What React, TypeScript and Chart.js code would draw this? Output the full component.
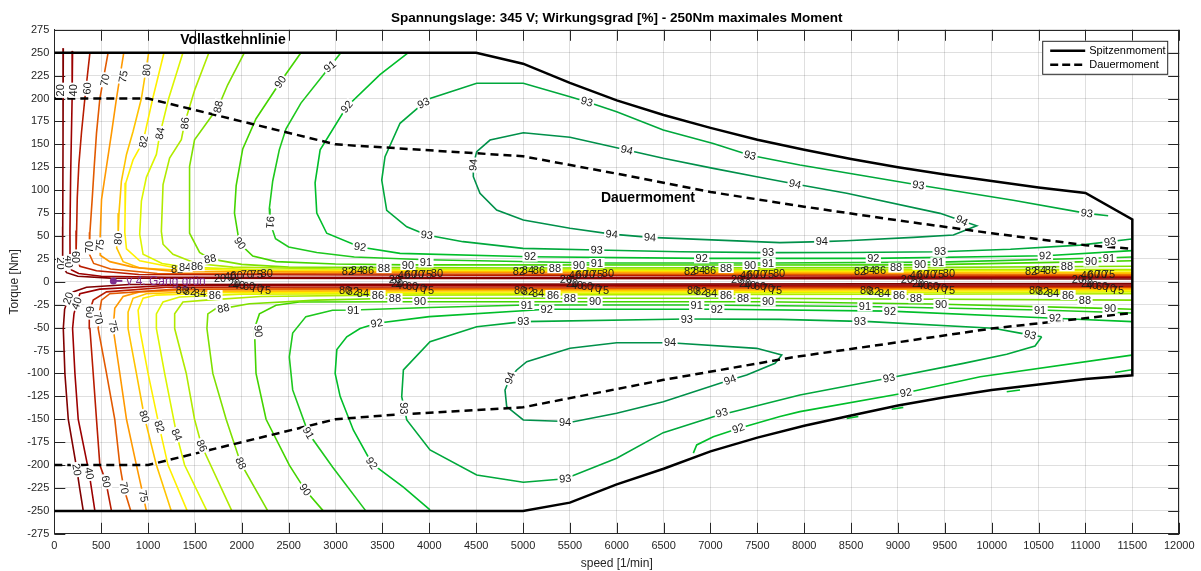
import React, { useEffect, useRef } from 'react';
import { Chart, registerables } from 'chart.js';
Chart.register(...registerables);

// ---------- axes ----------
const xTicks = [0, 500, 1000, 1500, 2000, 2500, 3000, 3500, 4000, 4500, 5000, 5500, 6000, 6500, 7000, 7500, 8000, 8500, 9000, 9500, 10000, 10500, 11000, 11500, 12000];
const yMin = -275;
const yMax = 275;

// ---------- envelope lines ----------
const spitzenmoment = [[0, 250], [4500, 250], [5000, 238], [5500, 217], [6000, 198], [6500, 182], [7000, 168], [7500, 155], [8000, 144], [8500, 134], [9000, 125], [9500, 117], [10000, 110], [10500, 103], [11000, 97], [11500, 68], [11500, -102], [11000, -106], [10500, -112], [10000, -118], [9500, -126], [9000, -135], [8500, -146], [8000, -157], [7500, -170], [7000, -185], [6500, -204], [6000, -221], [5500, -241], [5000, -250], [0, -250]];
const dauerOben = [[0, 200], [1000, 200], [2000, 175], [3000, 150], [5000, 137], [6000, 118], [7000, 98], [8000, 82], [9000, 67], [10000, 53], [11000, 40], [11500, 36]];
const dauerUnten = [[0, -200], [1000, -200], [2000, -175], [3000, -150], [3500, -146], [5000, -137], [6500, -107], [7900, -82], [9000, -66], [10000, -51], [11500, -34]];

// ---------- contour levels ----------
const levels = [20, 40, 60, 70, 75, 80, 82, 84, 86, 88, 90, 91, 92, 93, 94];
const levelColors = ['#800000', '#9c0000', '#b81c00', '#e25a00', '#ff9900', '#ffc400', '#fff000', '#dcf500', '#b0ea00', '#7ee000', '#44d400', '#1ec81e', '#00be2a', '#00a83c', '#00904a'];

// upper half (positive torque)
const c20o = [[96, 255], [93, 150], [90, 60], [89, 25], [100, 15], [131, 10], [250, 6], [600, 4], [11500, 3]];
const c40o = [[195, 252], [190, 200], [175, 120], [167, 56], [168, 25], [184, 13], [260, 9], [500, 6], [1200, 5], [11500, 4.5]];
const c60o = [[380, 250], [326, 200], [291, 164], [262, 128], [245, 92], [238, 56], [232, 30], [273, 17], [450, 12], [900, 8], [11500, 5.5]];
const c70o = [[574, 250], [486, 200], [450, 162], [426, 126], [404, 90], [380, 54], [375, 30], [420, 20], [600, 14], [1100, 9], [11500, 7]];
const c75o = [[741, 250], [663, 200], [610, 162], [557, 126], [504, 90], [486, 41], [490, 29], [592, 22], [840, 16], [1300, 11], [11500, 8]];
const c80o = [[1007, 250], [929, 200], [840, 164], [770, 139], [716, 110], [690, 75], [681, 50], [665, 37], [734, 22], [911, 15], [1550, 11.5], [11500, 9.5]];
const c82o = [[1170, 250], [1050, 200], [947, 153], [840, 133], [763, 108], [755, 75], [752, 54], [770, 36], [911, 23], [1301, 15], [2000, 12], [11500, 10.5]];
const c84o = [[1372, 250], [1220, 200], [1124, 160], [1089, 139], [982, 114], [929, 88], [911, 52], [947, 30], [1150, 20], [1395, 16], [2200, 13], [11500, 12]];
const c86o = [[1649, 250], [1500, 210], [1390, 173], [1355, 155], [1230, 135], [1160, 106], [1142, 55], [1160, 41], [1266, 30], [1514, 20], [1904, 16], [3000, 14], [11500, 13.5]];
const c88o = [[2028, 250], [1850, 215], [1750, 191], [1496, 155], [1443, 126], [1443, 75], [1443, 53], [1550, 32], [1663, 25], [2000, 19], [2500, 16], [5000, 15], [9000, 15.5], [11500, 17]];
const c90o = [[2631, 250], [2411, 218], [2152, 178], [2010, 145], [1940, 105], [1922, 75], [1975, 42], [2117, 28], [2365, 22], [3000, 19.5], [3777, 18.5], [7421, 18.3], [9253, 18.5], [11082, 22], [11500, 23]];
const c91o = [[3057, 250], [2941, 235], [2631, 195], [2472, 167], [2400, 144], [2330, 110], [2294, 80], [2301, 65], [2360, 47], [2500, 38], [2800, 32], [3200, 27], [3973, 24], [5786, 20.5], [7617, 20.5], [9449, 21.5], [11262, 26.3], [11500, 27]];
const c92o = [[3777, 250], [3474, 226], [3119, 191], [2836, 144], [2782, 108], [2800, 75], [2906, 53], [3261, 38], [3688, 31], [5075, 27.4], [6906, 25.6], [8737, 25.6], [10571, 28.5], [11500, 34]];
const c93o = [[11242, 72], [11013, 74.7], [10229, 89], [9218, 105.6], [7954, 127.5], [7421, 138], [7029, 151], [6496, 165.6], [5999, 185.6], [5680, 196.5], [5501, 202], [5003, 216.6], [4506, 216.6], [4008, 200], [3938, 195], [3688, 173], [3528, 136.5], [3493, 111], [3546, 78], [3760, 60], [3973, 51], [4360, 43.8], [5000, 36.5], [5786, 34.7], [6675, 32.8], [7617, 31.8], [8500, 32], [9449, 32.8], [10200, 35.5], [10942, 40], [11494, 46.7]];
const c94o = [[4470, 127.5], [4506, 142], [4648, 154.7], [5003, 162.7], [5501, 157.7], [6106, 143.8], [6496, 134.8], [7030, 123.8], [7493, 114.7], [7902, 106.7], [8453, 96.6], [9449, 74.7], [9680, 66.7], [9840, 61.2], [9591, 51], [9164, 48.5], [8453, 44.8], [8187, 43.8], [7741, 42.7], [6355, 48.5], [5946, 52], [5501, 58.4], [5003, 67.4], [4719, 78.3], [4541, 96.6], [4470, 114.7], [4470, 127.5]];

// lower half (negative torque)
const c20u = [[309, -250], [270, -225], [238, -203], [149, -150], [113, -100], [96, -51], [110, -30], [149, -18], [200, -11], [344, -6], [800, -3], [11500, -2]];
const c40u = [[433, -250], [372, -209], [255, -150], [220, -100], [195, -51], [210, -35], [239, -23.5], [273, -13], [486, -8], [1200, -4], [11500, -3.5]];
const c60u = [[610, -250], [550, -218], [486, -200], [450, -150], [415, -100], [380, -51], [373, -33], [415, -20], [557, -11], [1200, -6], [11500, -5]];
const c70u = [[816, -250], [741, -225], [699, -200], [645, -150], [557, -100], [468, -51], [469, -40], [504, -20], [592, -13], [1300, -8], [11500, -6]];
const c75u = [[982, -250], [950, -234], [876, -200], [770, -150], [699, -100], [628, -51], [645, -29], [734, -16], [911, -11], [1500, -9], [11500, -7]];
const c80u = [[1248, -250], [1089, -200], [960, -147], [876, -100], [787, -51], [787, -33], [840, -18], [982, -13], [1600, -10.5], [11500, -8]];
const c82u = [[1418, -250], [1213, -200], [1120, -158], [1000, -100], [911, -51], [894, -31], [947, -18], [1089, -14.5], [1800, -12], [11500, -9.5]];
const c84u = [[1628, -250], [1390, -200], [1306, -167], [1177, -100], [1089, -51], [1089, -35], [1160, -22], [1337, -16.5], [2000, -13.5], [11500, -11]];
const c86u = [[1894, -250], [1572, -179], [1496, -150], [1408, -100], [1284, -51], [1284, -35], [1372, -22], [1620, -20], [2200, -16], [3440, -14.5], [11500, -13]];
const c88u = [[2277, -250], [1989, -198], [1833, -150], [1691, -100], [1628, -51], [1638, -35], [1727, -29], [1805, -29], [2081, -24], [2800, -20], [3635, -18], [7280, -18], [11500, -20]];
const c90u = [[2869, -250], [2675, -227], [2507, -200], [2259, -150], [2152, -100], [2135, -51], [2188, -35], [2365, -25.5], [2613, -22], [3902, -21.7], [7564, -21.7], [9377, -24.2], [11209, -29], [11500, -30]];
const c91u = [[3323, -250], [2968, -202], [2710, -165], [2543, -118], [2507, -82], [2543, -56], [2684, -38], [2968, -31], [3190, -30.8], [4000, -28], [5040, -25.3], [6853, -25.3], [8648, -27], [10516, -30.8], [11500, -34]];
const c92u = [[4008, -249], [3724, -224], [3474, -205], [3386, -198], [3191, -162], [3049, -125], [2996, -100], [3014, -74], [3120, -60], [3261, -51], [3440, -45.3], [4000, -38], [5253, -30], [7067, -30], [8914, -32], [10729, -40], [11500, -43.5]];
const c92r = [[6817, -187], [6853, -178], [7030, -169], [7297, -160], [7741, -147], [7954, -141.7], [9085, -121], [9878, -103.6], [11494, -80]];
const c92f1 = [[8453, -149], [8577, -147]];
const c92f2 = [[8933, -139], [9057, -137]];
const c92f3 = [[10160, -120], [10302, -118]];
const c92f4 = [[11316, -99], [11494, -96]];
const c93u = [[10533, -60], [10302, -56], [10017, -50.7], [8700, -43.5], [7741, -41], [6747, -40.6], [5003, -43.5], [4506, -49], [4008, -65.4], [3724, -96.2], [3706, -125.4], [3760, -150.8], [4008, -183.5], [4506, -210.8], [5003, -218.8], [5450, -215], [5999, -192.6], [6496, -164.6], [7030, -147.2], [7954, -123.5], [8904, -105], [9697, -89], [10160, -79], [10462, -70], [10533, -60]];
const c94u = [[4861, -105], [4933, -96.2], [5040, -87.2], [5501, -72.6], [5999, -66.5], [6568, -66.5], [7493, -72.6], [7760, -79.9], [7689, -89], [7386, -101.7], [7208, -107.2], [6497, -130.8], [5999, -143.5], [5537, -152.7], [5003, -150.8], [4826, -136.3], [4808, -118.1], [4861, -105]];

const contourLines = [
  [20, c20o], [20, c20u], [40, c40o], [40, c40u], [60, c60o], [60, c60u], [70, c70o], [70, c70u],
  [75, c75o], [75, c75u], [80, c80o], [80, c80u], [82, c82o], [82, c82u], [84, c84o], [84, c84u],
  [86, c86o], [86, c86u], [88, c88o], [88, c88u], [90, c90o], [90, c90u], [91, c91o], [91, c91u],
  [92, c92o], [92, c92u], [92, c92r], [92, c92f1], [92, c92f2], [92, c92f3], [92, c92f4],
  [93, c93o], [93, c93u], [94, c94o], [94, c94u],
];

// ---------- contour labels: [speed, torque, rotation deg] ----------
const lab20 = [[71, 209, -90], [71, 20, 90], [1768, 4, 0], [3634, 3, 0], [5458, 3, 0], [7283, 3, 0], [9096, 3, 0], [10920, 3, 0], [149, -18, -70], [239, -205, 80], [1917, -1.5, 0], [3656, -1.5, 0], [5523, -1.5, 0], [7369, -1.5, 0], [9214, -1.5, 0], [11017, -1.5, 0]];
const lab40 = [[203, 209, -90], [157, 22, 90], [1875, 6, 0], [3730, 6.5, 0], [5554, 6.5, 0], [7379, 6.5, 0], [9192, 6.5, 0], [11016, 6.5, 0], [239, -23.5, -70], [373, -209, 80], [1970, -4, 0], [3709, -4, 0], [5576, -4, 0], [7422, -4, 0], [9267, -4, 0], [11070, -4, 0]];
const lab60 = [[352, 211, -85], [231, 27, 90], [1946, 7.4, 0], [3805, 7.5, 0], [5629, 7.5, 0], [7454, 7.5, 0], [9267, 7.5, 0], [11091, 7.5, 0], [373, -33, 90], [552, -218, 80], [2077, -5, 0], [3816, -5, 0], [5683, -5, 0], [7529, -5, 0], [9374, -5, 0], [11177, -5, 0]];
const lab70 = [[541, 220, -80], [373, 38, -90], [2053, 8.5, 0], [3880, 8, 0], [5704, 8, 0], [7529, 8, 0], [9342, 8, 0], [11166, 8, 0], [469, -40, 75], [744, -225, 80], [2162, -7, 0], [3901, -7, 0], [5768, -7, 0], [7614, -7, 0], [9459, -7, 0], [11262, -7, 0]];
const lab75 = [[736, 224, -80], [488, 40, -85], [2159, 8.5, 0], [3965, 8.5, 0], [5789, 8.5, 0], [7614, 8.5, 0], [9427, 8.5, 0], [11251, 8.5, 0], [629, -49, 75], [950, -234, 80], [2247, -9, 0], [3986, -9, 0], [5853, -9, 0], [7699, -9, 0], [9544, -9, 0], [11347, -9, 0]];
const lab80 = [[986, 231, -85], [683, 47, -85], [2266, 9.6, 0], [4082, 9.5, 0], [5906, 9.5, 0], [7731, 9.5, 0], [9544, 9.5, 0], [960, -147, 72], [1362, -9.7, 0], [3101, -9.7, 0], [4968, -9.7, 0], [6814, -9.7, 0], [8659, -9.7, 0], [10462, -9.7, 0]];
const lab82 = [[953, 153, -80], [1309, 13, 0], [3133, 11, 0], [4957, 11, 0], [6782, 11, 0], [8595, 11, 0], [10419, 11, 0], [1120, -158, 70], [1447, -10.8, 0], [3186, -10.8, 0], [5053, -10.8, 0], [6899, -10.8, 0], [8744, -10.8, 0], [10547, -10.8, 0]];
const lab84 = [[1129, 162, -80], [1395, 16, 0], [3229, 12, 0], [5053, 12, 0], [6878, 12, 0], [8691, 12, 0], [10515, 12, 0], [1306, -167, 65], [1554, -12.5, 0], [3293, -12.5, 0], [5160, -12.5, 0], [7006, -12.5, 0], [8851, -12.5, 0], [10654, -12.5, 0]];
const lab86 = [[1395, 173, -85], [1523, 17, 0], [3346, 12.5, 0], [5170, 12.5, 0], [6995, 12.5, 0], [8808, 12.5, 0], [10632, 12.5, 0], [1572, -179, 65], [1714, -14.4, 0], [3453, -14.4, 0], [5320, -14.4, 0], [7166, -14.4, 0], [9011, -14.4, 0], [10814, -14.4, 0]];
const lab88 = [[1750, 191, -78], [1663, 25, -10], [3517, 15, 0], [5341, 15, 0], [7166, 15, 0], [8979, 15.5, 0], [10803, 17, 0], [1989, -198, 65], [1803, -29, -10], [3634, -18, 0], [5501, -18, 0], [7347, -18, 0], [9192, -18, 0], [10995, -20, 0]];
const lab90 = [[2411, 218, -55], [1981, 42, 55], [3773, 18.3, 0], [5597, 18.3, 0], [7422, 18.3, 0], [9235, 18.5, 0], [11059, 22, 0], [2675, -227, 55], [2176, -54, 85], [3901, -21.7, 0], [5768, -21.7, 0], [7614, -21.7, 0], [9459, -24.2, 0], [11262, -29, 0]];
const lab91 = [[2941, 235, -40], [2301, 65, 95], [3965, 21, 0], [5789, 20.5, 0], [7614, 20.5, 0], [9427, 21.3, 0], [11251, 26, 0], [2710, -165, 60], [3190, -30.8, 0], [5040, -25.3, 0], [6853, -25.3, 0], [8648, -27, 0], [10516, -30.8, 0]];
const lab92 = [[3119, 191, -50], [3261, 38, 8], [5075, 27.4, 0], [6906, 25.6, 0], [8737, 25.6, 0], [10571, 28.5, -3], [3386, -198, 55], [3440, -45.3, -10], [5253, -30, 0], [7067, -30, 0], [8914, -32, 0], [10676, -39.5, -3], [7297, -160, -20], [9085, -121, -10]];
const lab93 = [[3938, 195, -25], [5680, 196.5, 15], [7421, 138, 14], [9218, 105.6, 10], [11013, 74.7, 8], [3973, 51, 8], [5786, 34.7, 2], [7614, 31.8, 0], [9449, 32.8, 0], [11262, 43.8, -8], [3723, -138, 90], [5450, -215, -5], [7120, -143, -15], [8904, -105, -12], [10409, -58, 15], [5003, -43.5, 0], [6747, -40.6, 0], [8594, -43.5, 0]];
const lab94 = [[4470, 127.5, -85], [6106, 143.8, 13], [7902, 106.7, 12], [9680, 66.7, 25], [5946, 52, 5], [6355, 48.5, 3], [8187, 43.8, 0], [4861, -105, -70], [6568, -66.5, 0], [7208, -107, -20], [5448, -154, 0]];
const contourLabels = [[20, lab20], [40, lab40], [60, lab60], [70, lab70], [75, lab75], [80, lab80], [82, lab82], [84, lab84], [86, lab86], [88, lab88], [90, lab90], [91, lab91], [92, lab92], [93, lab93], [94, lab94]];

// ---------- annotations ----------
const titleText = 'Spannungslage: 345 V; Wirkungsgrad [%] - 250Nm maximales Moment';
const annoVollast = { text: 'Vollastkennlinie', x: 1906, y: 264 };
const annoDauer = { text: 'Dauermoment', x: 6333, y: 91 };
const marker = { text: 'v 4. Gang grün', x: 630, y: 1 };
const legendItems = ['Spitzenmoment', 'Dauermoment'];

const FONT = '"Liberation Sans", Arial, Helvetica, sans-serif';

const toXY = (arr: number[][]) => arr.map(([x, y]) => ({ x, y }));

const frameAndTicks = {
  id: 'frameAndTicks',
  beforeDatasetsDraw(chart: any) {
    const { ctx, chartArea, scales } = chart;
    const { left, right, top, bottom } = chartArea;
    ctx.save();
    ctx.strokeStyle = '#262626';
    ctx.lineWidth = 1;
    ctx.beginPath();
    scales.x.ticks.forEach((t: any) => {
      const p = Math.round(scales.x.getPixelForValue(t.value)) + 0.5;
      ctx.moveTo(p, bottom); ctx.lineTo(p, bottom - 11);
      ctx.moveTo(p, top); ctx.lineTo(p, top + 11);
    });
    scales.y.ticks.forEach((t: any) => {
      const p = Math.round(scales.y.getPixelForValue(t.value)) + 0.5;
      ctx.moveTo(left, p); ctx.lineTo(left + 11, p);
      ctx.moveTo(right, p); ctx.lineTo(right - 11, p);
    });
    ctx.moveTo(left, Math.round(top) + 0.5); ctx.lineTo(right, Math.round(top) + 0.5);
    ctx.moveTo(Math.round(right) - 0.5, top); ctx.lineTo(Math.round(right) - 0.5, bottom);
    ctx.stroke();
    ctx.restore();
  },
};

const labelsPlugin = {
  id: 'contourLabels',
  afterDatasetsDraw(chart: any) {
    const { ctx, scales } = chart;
    ctx.save();
    ctx.font = '11px ' + FONT;
    ctx.textAlign = 'center';
    ctx.textBaseline = 'middle';
    contourLabels.forEach(([lvl, arr]: any) => {
      const t = String(lvl);
      arr.forEach(([dx, dy, rot]: number[]) => {
        const px = scales.x.getPixelForValue(dx);
        const py = scales.y.getPixelForValue(dy);
        ctx.save();
        ctx.translate(px, py);
        ctx.rotate((rot * Math.PI) / 180);
        const w = ctx.measureText(t).width;
        if (Math.abs(dy) > 13) {
          ctx.fillStyle = '#ffffff';
          ctx.fillRect(-w / 2 - 1.5, -5, w + 3, 10);
        }
        ctx.fillStyle = '#1a1a1a';
        ctx.fillText(t, 0, 0.5);
        ctx.restore();
      });
    });
    ctx.restore();
  },
};

const annotationsPlugin = {
  id: 'annotations',
  afterDraw(chart: any) {
    const { ctx, scales, chartArea } = chart;
    ctx.save();
    // title centred over the axes
    ctx.fillStyle = '#000';
    ctx.font = 'bold 13.5px ' + FONT;
    ctx.textAlign = 'center';
    ctx.textBaseline = 'middle';
    ctx.fillText(titleText, (chartArea.left + chartArea.right) / 2, chartArea.top - 12);
    ctx.font = 'bold 14px ' + FONT;
    [annoVollast, annoDauer].forEach((a) => {
      ctx.fillText(a.text, scales.x.getPixelForValue(a.x), scales.y.getPixelForValue(a.y));
    });
    // purple marker
    const mx = scales.x.getPixelForValue(marker.x);
    const my = scales.y.getPixelForValue(marker.y);
    ctx.fillStyle = '#7e2f8e';
    ctx.strokeStyle = '#7e2f8e';
    ctx.lineWidth = 2;
    ctx.beginPath(); ctx.arc(mx, my, 3.5, 0, Math.PI * 2); ctx.fill();
    ctx.beginPath(); ctx.moveTo(mx, my); ctx.lineTo(mx + 9, my); ctx.stroke();
    ctx.font = '12px ' + FONT;
    ctx.textAlign = 'left';
    ctx.fillText(marker.text, mx + 13, my + 1);
    // legend
    const bx = chartArea.right - 137;
    const by = chartArea.top + 11;
    const bw = 125;
    const bh = 33;
    ctx.fillStyle = '#fff';
    ctx.fillRect(bx, by, bw, bh);
    ctx.strokeStyle = '#262626';
    ctx.lineWidth = 1;
    ctx.strokeRect(bx + 0.5, by + 0.5, bw, bh);
    ctx.strokeStyle = '#000';
    ctx.lineWidth = 2.5;
    ctx.beginPath(); ctx.moveTo(bx + 8, by + 10); ctx.lineTo(bx + 43, by + 10); ctx.stroke();
    ctx.setLineDash([8, 4]);
    ctx.beginPath(); ctx.moveTo(bx + 8, by + 24); ctx.lineTo(bx + 43, by + 24); ctx.stroke();
    ctx.setLineDash([]);
    ctx.fillStyle = '#000';
    ctx.font = '11px ' + FONT;
    ctx.textAlign = 'left';
    ctx.fillText(legendItems[0], bx + 47, by + 10);
    ctx.fillText(legendItems[1], bx + 47, by + 24);
    ctx.restore();
  },
};

export default function App() {
  const ref = useRef<HTMLCanvasElement | null>(null);
  useEffect(() => {
    if (!ref.current) return;
    const datasets: any[] = [
      { data: toXY(spitzenmoment), borderColor: '#000', borderWidth: 2.5 },
      { data: toXY(dauerOben), borderColor: '#000', borderWidth: 2.5, borderDash: [8, 5] },
      { data: toXY(dauerUnten), borderColor: '#000', borderWidth: 2.5, borderDash: [8, 5] },
      ...contourLines.map(([lvl, pts]: any) => ({
        data: toXY(pts),
        borderColor: levelColors[levels.indexOf(lvl)],
        borderWidth: 1.6,
      })),
    ].map((d) => ({ ...d, showLine: true, pointRadius: 0, pointHoverRadius: 0, fill: false, tension: 0 }));

    const chart = new Chart(ref.current, {
      type: 'scatter',
      data: { datasets },
      options: {
        animation: false,
        responsive: false,
        devicePixelRatio: 1,
        events: [],
        layout: { padding: { left: 0, right: 21.8, top: 29.8, bottom: 0 } },
        plugins: {
          legend: { display: false },
          tooltip: { enabled: false },
          title: { display: false },
        },
        scales: {
          x: {
            type: 'linear',
            min: 0,
            max: 12000,
            afterBuildTicks: (s: any) => { s.ticks = xTicks.map((v) => ({ value: v })); },
            afterFit: (s: any) => { s.height = 37.2; },
            ticks: { autoSkip: false, maxRotation: 0, padding: 6, color: '#262626', font: { family: FONT, size: 11 }, callback: (v: any) => String(v) },
            grid: { color: 'rgba(38,38,38,0.15)', drawTicks: false },
            border: { display: true, color: '#262626' },
            title: { display: true, text: 'speed [1/min]', color: '#262626', font: { family: FONT, size: 12 }, padding: { top: 0, bottom: 0 } },
          },
          y: {
            type: 'linear',
            min: yMin,
            max: yMax,
            ticks: { stepSize: 25, autoSkip: false, padding: 5, color: '#262626', font: { family: FONT, size: 11 }, callback: (v: any) => String(v) },
            afterFit: (s: any) => { s.width = 54.3; },
            grid: { color: 'rgba(38,38,38,0.15)', drawTicks: false },
            border: { display: true, color: '#262626' },
            title: { display: true, text: 'Torque [Nm]', color: '#262626', font: { family: FONT, size: 12 }, padding: { top: 7.8, bottom: 0 } },
          },
        },
      },
      plugins: [frameAndTicks, labelsPlugin, annotationsPlugin],
    } as any);
    return () => chart.destroy();
  }, []);

  return (
    <div style={{ position: 'absolute', left: 0, top: 0, width: 1201, height: 571, background: '#fff' }}>
      <canvas ref={ref} width={1201} height={571} style={{ width: 1201, height: 571, display: 'block' }} />
    </div>
  );
}
